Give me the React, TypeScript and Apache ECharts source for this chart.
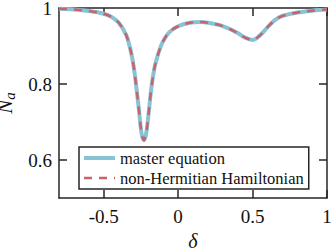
import React, { useEffect, useRef } from "react";
import * as echarts from "echarts";

const delta = [
  -0.8, -0.7, -0.6, -0.5, -0.45, -0.4, -0.35, -0.32, -0.3, -0.28, -0.26, -0.245, -0.23, -0.215, -0.2,
  -0.18, -0.16, -0.14, -0.12, -0.1, -0.06, 0, 0.08, 0.15, 0.22, 0.28, 0.34, 0.4, 0.45, 0.5, 0.55, 0.6,
  0.65, 0.7, 0.8, 0.9, 1.0,
];
const masterEquation = [
  0.998, 0.996, 0.992, 0.985, 0.977, 0.962, 0.93, 0.89, 0.85, 0.79, 0.72, 0.669, 0.652, 0.669, 0.716,
  0.788, 0.84, 0.871, 0.895, 0.913, 0.936, 0.952, 0.961, 0.963, 0.96, 0.955, 0.946, 0.934, 0.922, 0.916,
  0.928, 0.949, 0.968, 0.979, 0.988, 0.993, 0.996,
];
const nonHermitian = [
  0.998, 0.996, 0.992, 0.985, 0.977, 0.962, 0.93, 0.89, 0.85, 0.79, 0.72, 0.669, 0.652, 0.669, 0.716,
  0.788, 0.84, 0.871, 0.895, 0.913, 0.936, 0.952, 0.961, 0.963, 0.96, 0.955, 0.946, 0.934, 0.922, 0.916,
  0.928, 0.949, 0.968, 0.979, 0.988, 0.993, 0.996,
];
const xTicks = [-0.5, 0, 0.5, 1];
const yTicks = [0.6, 0.8, 1];
const seriesNames = ["master equation", "non-Hermitian Hamiltonian"];

export default function App() {
  const ref = useRef<HTMLDivElement>(null);
  useEffect(() => {
    document.body.style.margin = "0";
    const chart = echarts.init(ref.current!, null, { renderer: "svg" });
    const font = "Liberation Serif";
    const axisLine = { show: true, onZero: false, lineStyle: { color: "#262626", width: 1.5 } };
    const tick = (vals: number[]) => ({
      show: true,
      inside: true,
      length: 8,
      customValues: vals,
      lineStyle: { color: "#262626", width: 1.5 },
    });
    chart.setOption({
      animation: false,
      backgroundColor: "#ffffff",
      grid: { left: 59, right: 5, top: 8, bottom: 51, containLabel: false, outerBoundsMode: "none" },
      legend: {
        orient: "vertical",
        left: 79,
        top: 147,
        data: [
          { name: seriesNames[0], lineStyle: { width: 4, color: "#88c2d6" } },
          { name: seriesNames[1], lineStyle: { width: 2.5, color: "#c9636b", type: [8, 7] } },
        ],
        backgroundColor: "#ffffff",
        borderColor: "#262626",
        borderWidth: 1.5,
        borderRadius: 0,
        padding: [1, 5, 1, 3],
        itemGap: 0,
        itemWidth: 31,
        itemHeight: 14,
        itemStyle: { opacity: 0 },
        textStyle: { fontFamily: font, fontSize: 16.5, color: "#111", lineHeight: 20 },
      },
      xAxis: [
        {
          type: "value",
          min: -0.8,
          max: 1,
          name: "δ",
          nameLocation: "middle",
          nameGap: 27,
          nameTextStyle: { fontFamily: font, fontSize: 20, fontStyle: "italic", color: "#111" },
          axisLine,
          axisTick: tick(xTicks),
          axisLabel: {
            customValues: xTicks,
            margin: 9,
            fontFamily: font,
            fontSize: 19,
            color: "#111",
          },
          splitLine: { show: false },
        },
        {
          type: "value",
          position: "top",
          min: -0.8,
          max: 1,
          axisLine,
          axisTick: tick(xTicks),
          axisLabel: { show: false },
          splitLine: { show: false },
        },
      ],
      yAxis: [
        {
          type: "value",
          min: 0.5,
          max: 1,
          name: "{n|N}{s|a}",
          nameLocation: "middle",
          nameGap: 30,
          nameRotate: 90,
          nameTextStyle: {
            rich: {
              n: { fontFamily: font, fontSize: 21, fontStyle: "italic", color: "#111" },
              s: {
                fontFamily: font,
                fontSize: 15,
                fontStyle: "italic",
                color: "#111",
                padding: [10, 0, 0, 0],
              },
            },
          },
          axisLine,
          axisTick: tick(yTicks),
          axisLabel: {
            customValues: yTicks,
            margin: 7,
            fontFamily: font,
            fontSize: 19,
            color: "#111",
          },
          splitLine: { show: false },
        },
        {
          type: "value",
          position: "right",
          min: 0.5,
          max: 1,
          axisLine,
          axisTick: tick(yTicks),
          axisLabel: { show: false },
          splitLine: { show: false },
        },
      ],
      series: [
        {
          name: seriesNames[0],
          type: "line",
          data: delta.map((d, i) => [d, masterEquation[i]]),
          smooth: 0.35,
          showSymbol: false,
          symbol: "none",
          color: "#88c2d6",
          lineStyle: { color: "#88c2d6", width: 4 },
        },
        {
          name: seriesNames[1],
          type: "line",
          data: delta.map((d, i) => [d, nonHermitian[i]]),
          smooth: 0.35,
          showSymbol: false,
          symbol: "none",
          color: "#c9636b",
          lineStyle: { color: "#c9636b", width: 2.5, type: [8, 7] },
        },
      ],
    });
    return () => chart.dispose();
  }, []);
  return (
    <div
      ref={ref}
      style={{ position: "fixed", left: 0, top: 0, width: 332, height: 249 }}
    />
  );
}
